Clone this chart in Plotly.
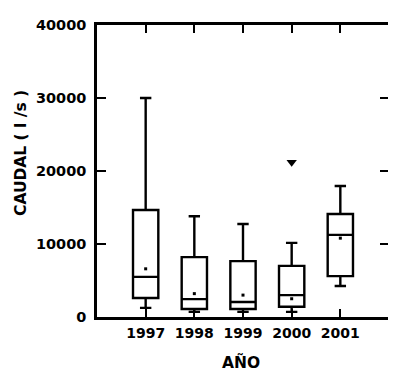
import plotly.graph_objects as go

years = ["1997", "1998", "1999", "2000", "2001"]
q1 = [2600, 1100, 1100, 1400, 5600]
median = [5500, 2450, 2050, 3000, 11250]
q3 = [14650, 8200, 7650, 7000, 14100]
lower = [1250, 700, 700, 700, 4250]
upper = [30000, 13800, 12750, 10150, 17950]
means = [6600, 3200, 3000, 2500, 10800]
outlier_year = ["2000"]
outlier_val = [21200]
y_ticks = [0, 10000, 20000, 30000, 40000]

fig = go.Figure()
fig.add_trace(go.Box(
    x=years, q1=q1, median=median, q3=q3,
    lowerfence=lower, upperfence=upper,
    width=0.52, whiskerwidth=0.45,
    fillcolor="white", line=dict(color="black", width=2.4),
    boxpoints=False, showlegend=False, hoverinfo="skip",
))
fig.add_trace(go.Scatter(
    x=years, y=means, mode="markers",
    marker=dict(symbol="square", size=3, color="black"),
    showlegend=False, hoverinfo="skip",
))
fig.add_trace(go.Scatter(
    x=outlier_year, y=outlier_val, mode="markers",
    marker=dict(symbol="triangle-down", size=9, color="black"),
    showlegend=False, hoverinfo="skip",
))

font = "DejaVu Sans, sans-serif"
# page body has an 8px margin; work in figure coordinates
OFF = 8
W, H = 388, 371
L, T = 97 - OFF, 25 - OFF
pw, ph = 292, 292
R, B = W - L - pw, H - T - ph
bottom_px = T + ph  # figure coords of x axis


def px_x(xw):
    return (xw - OFF - L) / pw


def px_y(yw):
    return (bottom_px - (yw - OFF)) / ph


fig.update_layout(
    width=W, height=H,
    margin=dict(l=L, r=R, t=T, b=B, autoexpand=False),
    paper_bgcolor="white", plot_bgcolor="white",
    font=dict(family=font, color="black"),
    xaxis=dict(
        type="category", range=[-1, 5], automargin=False,
        showline=True, linecolor="black", linewidth=2.5, mirror="ticks",
        ticks="inside", ticklen=8, tickwidth=2, tickcolor="black",
        showgrid=False, zeroline=False, ticklabelstandoff=1,
        tickfont=dict(size=14, family=font, weight="bold"),
    ),
    yaxis=dict(
        range=[0, 40000], tickvals=y_ticks, ticktext=[str(v) for v in y_ticks],
        automargin=False,
        showline=True, linecolor="black", linewidth=2.5, mirror="ticks",
        ticks="inside", ticklen=9, tickwidth=2, tickcolor="black",
        showgrid=False, zeroline=False, ticklabelstandoff=5,
        tickfont=dict(size=14.5, family=font, weight="bold"),
    ),
    annotations=[
        dict(text="<b>CAUDAL ( l /s )</b>", textangle=-90,
             xref="paper", yref="paper",
             x=px_x(21), y=px_y(153),
             xanchor="center", yanchor="middle", showarrow=False,
             font=dict(size=15.5, family=font)),
        dict(text="<b>AÑO</b>",
             xref="paper", yref="paper",
             x=px_x(241), y=px_y(362),
             xanchor="center", yanchor="middle", showarrow=False,
             font=dict(size=15.5, family=font)),
    ],
)
fig.write_html("out.html")
